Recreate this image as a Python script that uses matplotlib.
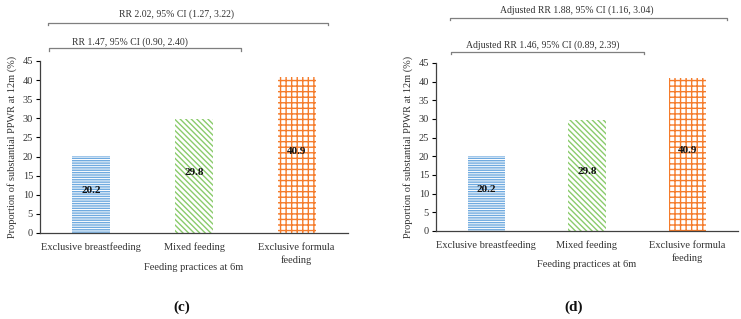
import numpy as np
import matplotlib
matplotlib.use('Agg')
import matplotlib.pyplot as plt

plt.rcParams['font.family'] = ['Liberation Serif', 'DejaVu Serif']
plt.rcParams['hatch.linewidth'] = 1.0

categories = ['Exclusive breastfeeding', 'Mixed feeding', 'Exclusive formula\nfeeding']
values = [20.2, 29.8, 40.9]
bar_colors = ['#6FAADF', '#8ACB6B', '#F57C2B']
hatches = ['-' * 7, chr(92) * 6, '+' * 3]

yticks = [0, 5, 10, 15, 20, 25, 30, 35, 40, 45]
ylabel = 'Proportion of substantial PPWR at 12m (%)'
xlabel = 'Feeding practices at 6m'

# bracket text, x start, x end, bracket y, text x, text y
brackets_c = [
    ('RR 2.02, 95% CI (1.27, 3.22)', -0.42, 2.31, 55.0, 0.83, 57.3),
    ('RR 1.47, 95% CI (0.90, 2.40)', -0.41, 1.46, 48.4, 0.38, 50.0),
]
brackets_d = [
    ('Adjusted RR 1.88, 95% CI (1.16, 3.04)', -0.36, 2.39, 57.1, 0.90, 59.2),
    ('Adjusted RR 1.46, 95% CI (0.89, 2.39)', -0.35, 1.57, 48.0, 0.56, 49.9),
]

txt = '#333333'
fig = plt.figure(figsize=(7.41, 3.19), dpi=100)
ax_c = fig.add_axes([40/741, 1 - 233/319, 308/741, 172/319])
ax_d = fig.add_axes([436/741, 1 - 231/319, 302/741, 168/319])


def draw_panel(ax, brackets, xlabel_y):
    x = np.arange(len(categories))
    for i, v in enumerate(values):
        ax.bar(x[i], v, width=0.37, facecolor='white', edgecolor=bar_colors[i],
               linewidth=0, hatch=hatches[i])
        ax.text(x[i], v / 2 + 1, f'{v:.1f}', ha='center', va='center',
                fontsize=8, fontweight='bold', color='#111111')
    ax.set_xlim(-0.5, 2.5)
    ax.set_ylim(0, 45)
    ax.set_yticks(yticks)
    ax.set_xticks(x)
    ax.set_xticklabels(categories, fontsize=7.5, color=txt, linespacing=1.45)
    ax.tick_params(axis='x', length=0, pad=7)
    ax.tick_params(axis='y', length=3, width=0.8, labelsize=7.5, labelcolor=txt, pad=2)
    for s in ['top', 'right']:
        ax.spines[s].set_visible(False)
    for s in ['left', 'bottom']:
        ax.spines[s].set_color('#404040')
        ax.spines[s].set_linewidth(0.9)
    ax.set_ylabel(ylabel, fontsize=7.5, color=txt, labelpad=4)
    ax.set_xlabel(xlabel, fontsize=7.5, color=txt, va='center')
    ax.xaxis.set_label_coords(0.5, xlabel_y)
    for label, x0, x1, yb, tx, ty in brackets:
        ax.plot([x0, x0, x1, x1], [yb - 0.7, yb, yb, yb - 0.7], color='#7F7F7F',
                linewidth=0.9, clip_on=False)
        ax.text(tx, ty, label, ha='center', va='center', fontsize=7, color=txt,
                clip_on=False)


draw_panel(ax_c, brackets_c, -0.198)
draw_panel(ax_d, brackets_d, -0.202)

fig.text(182/741, 1 - 307/319, '(c)', ha='center', va='center', fontsize=11,
         fontweight='bold', color='#111111')
fig.text(574/741, 1 - 307/319, '(d)', ha='center', va='center', fontsize=11,
         fontweight='bold', color='#111111')

fig.savefig('out.png', dpi=100)
